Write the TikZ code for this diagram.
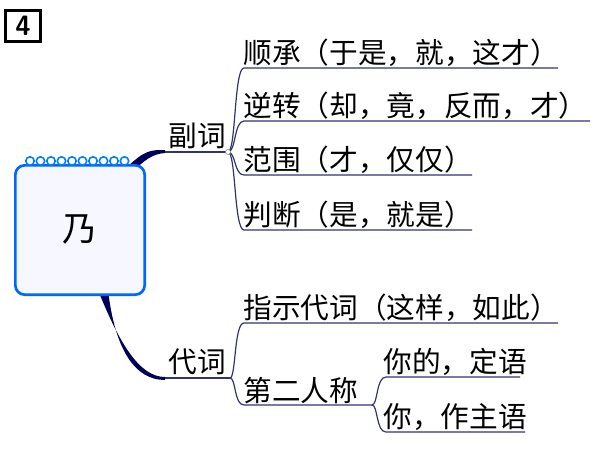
\documentclass[tikz,border=0pt]{standalone}
\usepackage{fontspec}
\newfontfamily\cjk{Noto Sans CJK SC}
\begin{document}
\begin{tikzpicture}[x=0.75pt,y=-0.75pt,
  lbl/.style={font=\cjk\fontsize{21.5}{23}\selectfont,anchor=south west,inner sep=1pt},
  ln/.style={draw=blue!30!black!80,line width=0.9pt}]
\useasboundingbox (0,0) rectangle (600,450);
% number box
\node[draw,line width=2pt,minimum width=26pt,minimum height=23pt,inner sep=0pt,font=\sffamily\bfseries\fontsize{21}{22}\selectfont] (num) at (23,26) {4};
% thick connectors
\fill[blue!35!black] (126,168) .. controls (145,150) and (150,150) .. (165,150) -- (165,153) .. controls (152,154) and (145,160) .. (132,172) -- cycle;
\fill[blue!35!black] (98,290) .. controls (120,345) and (140,377) .. (165,377) -- (165,380) .. controls (135,380) and (115,350) .. (108,290) -- cycle;
% notebook
\node[draw=blue!60!cyan,line width=2pt,fill=blue!3,rounded corners=7pt,minimum width=97,minimum height=97,font=\cjk\fontsize{26}{28}\selectfont] (core) at (80,230) {乃};
\foreach \i in {0,...,9}{\draw[blue!50!cyan,line width=1.2pt] (30+\i*10.5,161) circle (4.2);}
% main branch lines
\coordinate (j1) at (228,152);
\coordinate (j2) at (230,378);
\draw[ln] (165,152) -- (j1);
\draw[ln] (165,378) -- (j2);
\node[lbl,anchor=south] (fuci) at (197,150) {副词};
\node[lbl,anchor=south] (daici) at (197,376) {代词};
% sub branches of 副词
\foreach \y/\e/\t/\n in {68/558/顺承（于是，就，这才）/a,121/590/逆转（却，竟，反而，才）/b,175/472/范围（才，仅仅）/c,230/472/判断（是，就是）/d}{
  \node[lbl] (\n) at (242,\y) {\t};
  \draw[ln] (j1) .. controls (236,152) and (234,\y) .. (244,\y) -- (\e,\y);
}
\draw[fill=white,draw=gray] (j1) circle (2.5);
% 代词 sub
\node[lbl] (e) at (242,323) {指示代词（这样，如此）};
\draw[ln] (j2) .. controls (236,378) and (234,323) .. (244,323) -- (558,323);
\node[lbl] (f) at (242,405) {第二人称};
\draw[ln] (j2) .. controls (236,378) and (234,405) .. (244,405) -- (372,405);
\coordinate (j3) at (372,405);
\node[lbl] (g) at (382,377) {你的，定语};
\node[lbl] (h) at (382,432) {你，作主语};
\draw[ln] (j3) .. controls (378,405) and (376,377) .. (386,377) -- (520,377);
\draw[ln] (j3) .. controls (378,405) and (376,432) .. (386,432) -- (525,432);
\end{tikzpicture}
\end{document}
